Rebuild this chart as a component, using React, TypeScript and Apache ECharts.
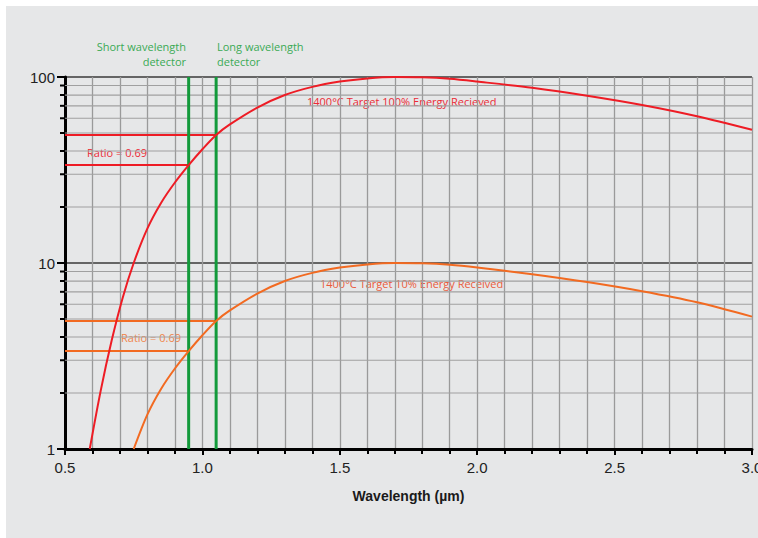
import React, { useEffect, useRef } from "react";
import * as echarts from "echarts";

// ---- data ----
const wavelengths100 = [0.59, 0.63, 0.67, 0.71, 0.75, 0.8, 0.85, 0.9, 0.95, 1.0, 1.05, 1.1, 1.2, 1.3, 1.4, 1.5, 1.6, 1.7, 1.8, 1.9, 2.0, 2.2, 2.4, 2.6, 2.8, 3.0];
const energy100 = [1.0, 2.06, 3.84, 6.51, 10, 15.35, 21.1, 27.1, 33.6, 40.9, 48.8, 55.6, 68.5, 80, 88.5, 94.5, 98.3, 100, 99.6, 97.8, 94.5, 87.5, 79.3, 70.7, 61.5, 52];

const wavelengths10 = [0.75, 0.8, 0.85, 0.9, 0.95, 1.0, 1.05, 1.1, 1.2, 1.3, 1.4, 1.5, 1.6, 1.7, 1.8, 1.9, 2.0, 2.2, 2.4, 2.6, 2.8, 3.0];
const energy10 = [1.0, 1.535, 2.11, 2.71, 3.36, 4.09, 4.88, 5.56, 6.85, 8.0, 8.85, 9.45, 9.83, 10, 9.96, 9.78, 9.45, 8.7, 7.9, 7.05, 6.15, 5.15];

const shortDetector = 0.95;
const longDetector = 1.05;
const ratioLevels100 = [48.8, 33.6]; // long, short
const ratioLevels10 = [4.88, 3.36];

const xMin = 0.5;
const xMax = 3.0;
const yMin = 1;
const yMax = 100;
const yMinorValues = [2, 3, 4, 5, 6, 7, 8, 9, 20, 30, 40, 50, 60, 70, 80, 90];
const yTickLabels = ["1", "10", "100"];

const RED = "#ee1c25";
const ORANGE = "#f26a21";
const GREEN = "#139a3b";
const GREEN_TEXT = "#3aaa55";
const ANNOT_FONT = "'Open Sans', sans-serif";

export default function App() {
  const ref = useRef<HTMLDivElement>(null);

  useEffect(() => {
    document.body.style.margin = "0";
    if (!ref.current) return;
    const chart = echarts.init(ref.current, undefined, { renderer: "svg" });

    const curve100 = wavelengths100.map((x, i) => [x, energy100[i]]);
    const curve10 = wavelengths10.map((x, i) => [x, energy10[i]]);

    const hLine = (level: number, toX: number, color: string) => ({
      type: "line",
      data: [
        [xMin, level],
        [toX, level],
      ],
      symbol: "none",
      lineStyle: { color, width: 2 },
      z: 4,
      silent: true,
    });

    const vLine = (x: number) => ({
      type: "line",
      data: [
        [x, yMin],
        [x, yMax],
      ],
      symbol: "none",
      lineStyle: { color: GREEN, width: 3 },
      z: 5,
      silent: true,
    });

    const option: any = {
      animation: false,
      backgroundColor: "#e6e7e8",
      grid: { left: 65, right: 6, top: 77, bottom: 89, containLabel: false, outerBoundsMode: "none" },
      xAxis: {
        type: "value",
        min: xMin,
        max: xMax,
        interval: 0.5,
        name: "Wavelength (µm)",
        nameLocation: "middle",
        nameGap: 40,
        nameTextStyle: {
          fontFamily: "'Liberation Sans', Arial, sans-serif",
          fontWeight: "bold",
          fontSize: 14,
          color: "#1a1a1a",
        },
        axisLine: { show: true, onZero: false, lineStyle: { color: "#000", width: 3 } },
        axisTick: { show: true, length: 6, lineStyle: { color: "#000", width: 2 } },
        minorTick: { show: true, splitNumber: 5, length: 5, lineStyle: { color: "#000", width: 2 } },
        axisLabel: {
          margin: 11,
          fontFamily: "'Liberation Sans', Arial, sans-serif",
          fontSize: 15,
          color: "#222",
          formatter: (v: number) => v.toFixed(1),
        },
        splitLine: { show: true, lineStyle: { color: "#9a9a9a", width: 1.3 } },
        minorSplitLine: { show: true, lineStyle: { color: "#9a9a9a", width: 1.3 } },
      },
      yAxis: {
        type: "log",
        logBase: 10,
        min: yMin,
        max: yMax,
        axisLine: { show: true, onZero: false, lineStyle: { color: "#000", width: 3 } },
        axisTick: { show: true, length: 8, lineStyle: { color: "#000", width: 2 } },
        axisLabel: {
          margin: 10,
          fontFamily: "'Liberation Sans', Arial, sans-serif",
          fontSize: 15,
          color: "#222",
          formatter: (v: number) => {
            const s = String(Math.round(v));
            return yTickLabels.includes(s) ? s : "";
          },
        },
        splitLine: { show: true, lineStyle: { color: "#3a3a3a", width: 1.6 } },
      },
      graphic: [
        { type: "rect", shape: { x: 0, y: 0, width: 758, height: 6 }, style: { fill: "#ffffff" }, silent: true },
        { type: "rect", shape: { x: 0, y: 0, width: 6, height: 538 }, style: { fill: "#ffffff" }, silent: true },
        {
          type: "text",
          x: 186,
          y: 39,
          style: {
            text: "Short wavelength\ndetector",
            align: "right",
            verticalAlign: "top",
            fill: GREEN_TEXT,
            font: `11px ${ANNOT_FONT}`,
            lineHeight: 15,
          },
        },
        {
          type: "text",
          x: 217,
          y: 39,
          style: {
            text: "Long wavelength\ndetector",
            align: "left",
            verticalAlign: "top",
            fill: GREEN_TEXT,
            font: `11px ${ANNOT_FONT}`,
            lineHeight: 15,
          },
        },
        {
          type: "text",
          x: 87,
          y: 152,
          style: { text: "Ratio = 0.69", align: "left", verticalAlign: "middle", fill: "#ec2a36", font: `11px ${ANNOT_FONT}` },
        },
        {
          type: "text",
          x: 121,
          y: 337,
          style: { text: "Ratio = 0.69", align: "left", verticalAlign: "middle", fill: "#f0844a", font: `11px ${ANNOT_FONT}` },
        },
        {
          type: "text",
          x: 307,
          y: 101,
          style: {
            text: "1400°C Target 100% Energy Recieved",
            align: "left",
            verticalAlign: "middle",
            fill: "#ec2a36",
            font: `11px ${ANNOT_FONT}`,
          },
        },
        {
          type: "text",
          x: 320,
          y: 283,
          style: {
            text: "1400°C Target 10% Energy Received",
            align: "left",
            verticalAlign: "middle",
            fill: "#ea5a3a",
            font: `11px ${ANNOT_FONT}`,
          },
        },
      ],
      series: [
        {
          type: "custom",
          clip: false,
          silent: true,
          z: 1,
          data: yMinorValues.map((v) => [xMin, v]),
          encode: { x: 0, y: 1 },
          renderItem: (_params: any, api: any) => {
            const v = api.value(1);
            const s = api.coord([xMin, v]);
            const e = api.coord([xMax, v]);
            return {
              type: "group",
              children: [
                {
                  type: "line",
                  shape: { x1: s[0], y1: s[1], x2: e[0], y2: e[1] },
                  style: { stroke: "#a0a0a0", lineWidth: 1.2 },
                },
                {
                  type: "line",
                  shape: { x1: s[0] - 5, y1: s[1], x2: s[0], y2: s[1] },
                  style: { stroke: "#000", lineWidth: 2 },
                },
              ],
            };
          },
        },
        hLine(ratioLevels100[0], longDetector, RED),
        hLine(ratioLevels100[1], shortDetector, RED),
        hLine(ratioLevels10[0], longDetector, ORANGE),
        hLine(ratioLevels10[1], shortDetector, ORANGE),
        vLine(shortDetector),
        vLine(longDetector),
        {
          type: "line",
          data: curve100,
          symbol: "none",
          smooth: 0.3,
          lineStyle: { color: RED, width: 2 },
          z: 6,
          silent: true,
        },
        {
          type: "line",
          data: curve10,
          symbol: "none",
          smooth: 0.3,
          lineStyle: { color: ORANGE, width: 2 },
          z: 6,
          silent: true,
        },
      ],
    };

    chart.setOption(option);
    return () => chart.dispose();
  }, []);

  return <div ref={ref} style={{ width: 758, height: 538 }} />;
}
